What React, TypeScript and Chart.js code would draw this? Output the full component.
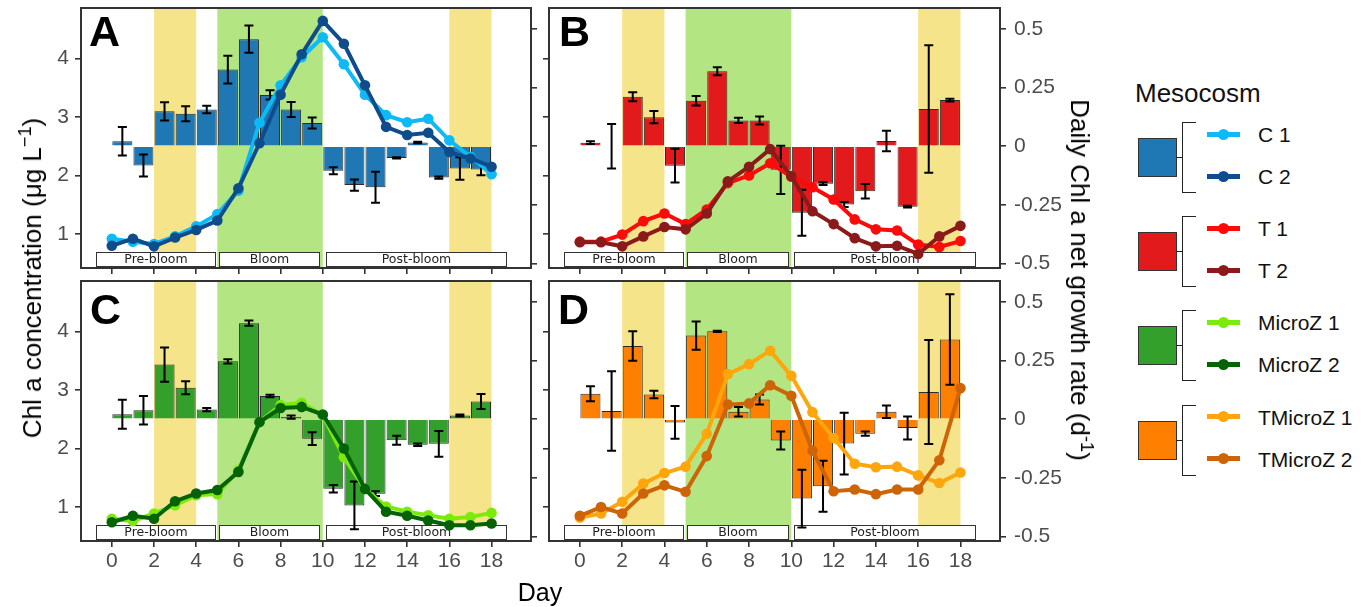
import React, { useEffect, useRef } from 'react';
import { Chart, registerables } from 'chart.js';
Chart.register(...registerables);

const FONT = '"Liberation Sans", Arial, Helvetica, sans-serif';

// ---------- axis / annotation values ----------
const days = [0, 1, 2, 3, 4, 5, 6, 7, 8, 9, 10, 11, 12, 13, 14, 15, 16, 17, 18];
const dayTicks = [0, 2, 4, 6, 8, 10, 12, 14, 16, 18];
const chlTicks = [1, 2, 3, 4];
const rateTicks = [-0.5, -0.25, 0, 0.25, 0.5];
const rateTickLabels = ['-0.5', '-0.25', '0', '0.25', '0.5'];
const xMin = -1.46;
const xMax = 19.87;
const chlMin = 0.42;
const chlMax = 4.86;
// rate axis is tied to the Chl axis: rate = (chl - 2.5) / 4
const rateMin = (chlMin - 2.5) / 4;
const rateMax = (chlMax - 2.5) / 4;

const yellowSpans = [[2, 4], [16, 18]];
const greenSpans = [[5, 10]];
const phaseLabels = ['Pre-bloom', 'Bloom', 'Post-bloom'];
const phaseStart = [-0.75, 5.08, 10.15];
const phaseEnd = [4.9, 9.84, 18.7];
const phaseBoxLow = 0.459;
const phaseBoxHigh = 0.69;

// ---------- Panel A: C ----------
const c1 = [0.92, 0.87, 0.83, 0.96, 1.13, 1.34, 1.74, 2.9, 3.54, 4.02, 4.36, 3.9, 3.38, 3.03, 2.91, 2.97, 2.6, 2.32, 2.02];
const c2 = [0.8, 0.92, 0.79, 0.94, 1.07, 1.23, 1.78, 2.55, 3.38, 4.07, 4.64, 4.25, 3.54, 2.83, 2.69, 2.73, 2.4, 2.29, 2.15];
const cRate = [0.021, -0.082, 0.149, 0.139, 0.157, 0.327, 0.457, 0.219, 0.157, 0.099, -0.105, -0.166, -0.175, -0.05, 0.016, -0.134, -0.095, -0.099];
const cErr = [0.061, 0.047, 0.039, 0.032, 0.016, 0.059, 0.058, 0.02, 0.032, 0.023, 0.015, 0.024, 0.066, 0.003, 0.003, 0.005, 0.048, 0.025];

// ---------- Panel B: T ----------
const t1 = [0.87, 0.87, 0.99, 1.22, 1.35, 1.17, 1.42, 1.87, 2.0, 2.21, 1.98, 1.8, 1.59, 1.25, 1.08, 1.06, 0.82, 0.78, 0.88];
const t2 = [0.86, 0.86, 0.79, 0.96, 1.12, 1.08, 1.35, 1.9, 2.15, 2.45, 1.99, 1.39, 1.17, 0.93, 0.79, 0.8, 0.66, 0.96, 1.14];
const tRate = [0.015, 0.0, 0.211, 0.124, -0.083, 0.194, 0.32, 0.11, 0.11, -0.101, -0.284, -0.16, -0.249, -0.192, 0.022, -0.258, 0.159, 0.197];
const tErr = [0.006, 0.095, 0.019, 0.026, 0.072, 0.02, 0.017, 0.011, 0.017, 0.103, 0.098, 0.006, 0.011, 0.031, 0.044, 0.004, 0.272, 0.006];

// ---------- Panel C: MicroZ ----------
const m1 = [0.8, 0.76, 0.89, 1.03, 1.2, 1.22, 1.63, 2.45, 2.74, 2.78, 2.57, 1.85, 1.31, 1.01, 0.92, 0.86, 0.8, 0.83, 0.9];
const m2 = [0.74, 0.85, 0.8, 1.1, 1.23, 1.29, 1.6, 2.45, 2.69, 2.71, 2.58, 2.0, 1.31, 0.92, 0.85, 0.77, 0.69, 0.69, 0.72];
const mRate = [0.021, 0.038, 0.233, 0.134, 0.041, 0.247, 0.41, 0.099, 0.009, -0.083, -0.297, -0.368, -0.318, -0.09, -0.109, -0.105, 0.016, 0.076];
const mErr = [0.062, 0.061, 0.073, 0.028, 0.007, 0.009, 0.011, 0.005, 0.007, 0.027, 0.016, 0.102, 0.01, 0.019, 0.005, 0.055, 0.004, 0.032];

// ---------- Panel D: TMicroZ ----------
const tm1 = [0.82, 0.89, 1.09, 1.4, 1.58, 1.69, 2.25, 3.27, 3.44, 3.67, 3.24, 2.62, 2.18, 1.74, 1.68, 1.69, 1.54, 1.41, 1.59];
const tm2 = [0.85, 1.0, 0.89, 1.23, 1.37, 1.26, 1.87, 2.75, 2.77, 3.08, 2.9, 1.96, 1.27, 1.3, 1.22, 1.3, 1.3, 1.8, 3.03];
const tmRate = [0.109, 0.035, 0.312, 0.105, -0.014, 0.357, 0.375, 0.032, 0.084, -0.091, -0.339, -0.286, -0.104, -0.062, 0.032, -0.038, 0.116, 0.34];
const tmErr = [0.032, 0.17, 0.063, 0.016, 0.07, 0.06, 0.003, 0.02, 0.021, 0.038, 0.123, 0.109, 0.132, 0.009, 0.027, 0.049, 0.222, 0.193];

// ---------- names / colours ----------
const groupNames = [['C 1', 'C 2'], ['T 1', 'T 2'], ['MicroZ 1', 'MicroZ 2'], ['TMicroZ 1', 'TMicroZ 2']];
const barColors = ['#1F78B4', '#E31A1C', '#33A02C', '#FF7F00'];
const lineColors = [['#0DBAF5', '#0F4C8C'], ['#FF0A0A', '#8B1A1A'], ['#7CEB0C', '#056205'], ['#FFA60D', '#CD6508']];
const panelLetters = ['A', 'B', 'C', 'D'];

const YELLOW = '#F6E48A';
const GREEN = '#B4E583';

type PanelDef = {
  letter: string;
  l1: number[];
  l2: number[];
  rate: number[];
  err: number[];
  bar: string;
  c1: string;
  c2: string;
  names: string[];
  box: { left: number; top: number; w: number; h: number };
  leftW: number;
  rightW: number;
  padTop: number;
  xH: number;
  showX: boolean;
  showL: boolean;
  showR: boolean;
};

const lineSets = [[c1, c2], [t1, t2], [m1, m2], [tm1, tm2]];
const rateSets = [cRate, tRate, mRate, tmRate];
const errSets = [cErr, tErr, mErr, tmErr];

const boxes = [
  { left: 0, top: 0, w: 545, h: 282 },
  { left: 535, top: 0, w: 540, h: 282 },
  { left: 0, top: 270, w: 545, h: 310 },
  { left: 535, top: 270, w: 540, h: 310 },
];

const panels: PanelDef[] = [0, 1, 2, 3].map((i) => {
  const isLeft = i % 2 === 0;
  const isBottom = i >= 2;
  return {
    letter: panelLetters[i],
    l1: lineSets[i][0],
    l2: lineSets[i][1],
    rate: rateSets[i],
    err: errSets[i],
    bar: barColors[i],
    c1: lineColors[i][0],
    c2: lineColors[i][1],
    names: groupNames[i],
    box: boxes[i],
    leftW: isLeft ? 81 : 14,
    rightW: isLeft ? 14 : 75,
    padTop: isBottom ? 11 : 8,
    xH: isBottom ? 39 : 14,
    showX: isBottom,
    showL: isLeft,
    showR: !isLeft,
  };
});

function buildChart(canvas: HTMLCanvasElement, p: PanelDef) {
  const mids = days.slice(0, -1).map((d) => d + 0.5);

  const deco = {
    id: 'deco',
    beforeDatasetsDraw(chart: any) {
      const { ctx, chartArea: a, scales } = chart;
      const x = scales.x;
      const yL = scales.yL;
      ctx.save();
      ctx.beginPath();
      ctx.rect(a.left, a.top, a.right - a.left, a.bottom - a.top);
      ctx.clip();
      const span = (s: number, e: number, col: string) => {
        const x0 = x.getPixelForValue(s);
        const x1 = x.getPixelForValue(e);
        ctx.fillStyle = col;
        ctx.fillRect(x0, a.top, x1 - x0, a.bottom - a.top);
      };
      yellowSpans.forEach(([s, e]) => span(s, e, YELLOW));
      greenSpans.forEach(([s, e]) => span(s, e, GREEN));
      phaseLabels.forEach((lab, k) => {
        const x0 = Math.round(x.getPixelForValue(phaseStart[k])) + 0.5;
        const x1 = Math.round(x.getPixelForValue(phaseEnd[k])) + 0.5;
        const y0 = Math.round(yL.getPixelForValue(phaseBoxHigh)) + 0.5;
        const y1 = Math.round(yL.getPixelForValue(phaseBoxLow)) + 0.5;
        ctx.fillStyle = '#ffffff';
        ctx.fillRect(x0, y0, x1 - x0, y1 - y0);
        ctx.strokeStyle = '#333333';
        ctx.lineWidth = 1;
        ctx.strokeRect(x0, y0, x1 - x0, y1 - y0);
        ctx.fillStyle = '#222222';
        ctx.font = '12.5px "DejaVu Sans", Verdana, sans-serif';
        ctx.textAlign = 'center';
        ctx.textBaseline = 'middle';
        ctx.fillText(lab, (x0 + x1) / 2, (y0 + y1) / 2 + 0.5);
      });
      ctx.restore();
    },
    afterDatasetDraw(chart: any, args: any) {
      if (args.meta.type !== 'bar') return;
      const { ctx } = chart;
      const yR = chart.scales.yR;
      ctx.save();
      ctx.strokeStyle = '#000000';
      ctx.lineWidth = 2;
      args.meta.data.forEach((bar: any, i: number) => {
        const v = p.rate[i];
        const e = p.err[i];
        const yT = yR.getPixelForValue(v + e);
        const yB = yR.getPixelForValue(v - e);
        const bx = bar.x;
        ctx.beginPath();
        ctx.moveTo(bx, yT);
        ctx.lineTo(bx, yB);
        ctx.moveTo(bx - 4.5, yT);
        ctx.lineTo(bx + 4.5, yT);
        ctx.moveTo(bx - 4.5, yB);
        ctx.lineTo(bx + 4.5, yB);
        ctx.stroke();
      });
      ctx.restore();
    },
    afterDraw(chart: any) {
      const { ctx, chartArea: a } = chart;
      ctx.save();
      ctx.strokeStyle = '#333333';
      ctx.lineWidth = 2;
      ctx.strokeRect(a.left, a.top, a.right - a.left, a.bottom - a.top);
      ctx.restore();
    },
  };

  const gridCfg = {
    display: true,
    drawOnChartArea: false,
    drawTicks: true,
    tickLength: 6,
    color: '#333333',
    lineWidth: 1.6,
  };
  const tickFont = { family: FONT, size: 21 };
  const zeroPad = (s: any) => {
    s.paddingTop = 0;
    s.paddingBottom = 0;
    s.paddingLeft = 0;
    s.paddingRight = 0;
  };

  const lineDs = (vals: number[], col: string, label: string, order: number) => ({
    type: 'line' as const,
    label,
    data: days.map((d, i) => ({ x: d, y: vals[i] })),
    xAxisID: 'x',
    yAxisID: 'yL',
    borderColor: col,
    backgroundColor: col,
    borderWidth: 4,
    pointRadius: 5.3,
    pointHoverRadius: 5.3,
    pointBorderWidth: 0,
    pointBackgroundColor: col,
    tension: 0,
    order,
  });

  return new Chart(canvas, {
    type: 'bar',
    data: {
      datasets: [
        lineDs(p.l2, p.c2, p.names[1], 1),
        lineDs(p.l1, p.c1, p.names[0], 2),
        {
          type: 'bar' as const,
          label: 'rate',
          data: mids.map((m, i) => ({ x: m, y: p.rate[i] })),
          xAxisID: 'x',
          yAxisID: 'yR',
          backgroundColor: p.bar,
          borderColor: '#2b2b2b',
          borderWidth: 1,
          barPercentage: 0.95,
          categoryPercentage: 1,
          order: 3,
        },
      ] as any,
    },
    options: {
      animation: false,
      responsive: false,
      maintainAspectRatio: false,
      events: [],
      layout: { padding: { top: p.padTop, left: 0, right: 0, bottom: 0 } },
      plugins: { legend: { display: false }, tooltip: { enabled: false }, title: { display: false } },
      scales: {
        x: {
          type: 'linear',
          position: 'bottom',
          min: xMin,
          max: xMax,
          offset: false,
          afterBuildTicks: (s: any) => {
            s.ticks = dayTicks.map((v) => ({ value: v }));
          },
          ticks: {
            display: p.showX,
            font: tickFont,
            color: '#4D4D4D',
            padding: 2,
            maxRotation: 0,
            autoSkip: false,
            callback: (v: any) => String(v),
          },
          grid: { ...gridCfg, offset: false },
          border: { display: false },
          afterFit: (s: any) => {
            s.height = p.xH;
            zeroPad(s);
          },
        },
        yL: {
          type: 'linear',
          position: 'left',
          min: chlMin,
          max: chlMax,
          afterBuildTicks: (s: any) => {
            s.ticks = chlTicks.map((v) => ({ value: v }));
          },
          ticks: {
            display: p.showL,
            font: tickFont,
            color: '#4D4D4D',
            padding: 6,
            callback: (v: any) => String(v),
          },
          grid: gridCfg,
          border: { display: false },
          afterFit: (s: any) => {
            s.width = p.leftW;
            zeroPad(s);
          },
        },
        yR: {
          type: 'linear',
          position: 'right',
          min: rateMin,
          max: rateMax,
          afterBuildTicks: (s: any) => {
            s.ticks = rateTicks.map((v) => ({ value: v }));
          },
          ticks: {
            display: p.showR,
            font: tickFont,
            color: '#4D4D4D',
            padding: 8,
            callback: (_v: any, idx: number) => rateTickLabels[idx],
          },
          grid: gridCfg,
          border: { display: false },
          afterFit: (s: any) => {
            s.width = p.rightW;
            zeroPad(s);
          },
        },
      },
    } as any,
    plugins: [deco],
  });
}

const letterPos = [
  { left: 89, top: 9.5 },
  { left: 559, top: 9.5 },
  { left: 90, top: 288 },
  { left: 558, top: 288 },
];

export default function App() {
  const r0 = useRef<HTMLCanvasElement>(null);
  const r1 = useRef<HTMLCanvasElement>(null);
  const r2 = useRef<HTMLCanvasElement>(null);
  const r3 = useRef<HTMLCanvasElement>(null);
  const refs = [r0, r1, r2, r3];

  useEffect(() => {
    const charts = panels.map((p, i) => buildChart(refs[i].current as HTMLCanvasElement, p));
    return () => charts.forEach((c) => c.destroy());
  }, []);

  const legendTop0 = 138;
  const legendStep = 94.2;

  return (
    <div
      style={{
        position: 'fixed',
        left: 0,
        top: 0,
        width: 1371,
        height: 607,
        background: '#ffffff',
        overflow: 'hidden',
        fontFamily: FONT,
      }}
    >
      {panels.map((p, i) => (
        <canvas
          key={p.letter}
          ref={refs[i]}
          width={p.box.w}
          height={p.box.h}
          style={{ position: 'absolute', left: p.box.left, top: p.box.top, width: p.box.w, height: p.box.h }}
        />
      ))}
      {panels.map((p, i) => (
        <div
          key={'L' + p.letter}
          style={{
            position: 'absolute',
            left: letterPos[i].left,
            top: letterPos[i].top,
            fontSize: 43,
            lineHeight: 1,
            fontWeight: 'bold',
            color: '#000',
          }}
        >
          {p.letter}
        </div>
      ))}

      {/* axis titles */}
      <div
        style={{
          position: 'absolute',
          left: 32,
          top: 278,
          transform: 'translate(-50%, -50%) rotate(-90deg)',
          whiteSpace: 'nowrap',
          fontSize: 26,
          lineHeight: 1,
          color: '#000',
        }}
      >
        Chl a concentration (μg L<sup style={{ fontSize: '0.7em', lineHeight: 0 }}>−1</sup>)
      </div>
      <div
        style={{
          position: 'absolute',
          left: 1080,
          top: 280,
          transform: 'translate(-50%, -50%) rotate(90deg)',
          whiteSpace: 'nowrap',
          fontSize: 26,
          lineHeight: 1,
          color: '#000',
        }}
      >
        Daily Chl a net growth rate (d<sup style={{ fontSize: '0.7em', lineHeight: 0 }}>-1</sup>)
      </div>
      <div
        style={{
          position: 'absolute',
          left: 540,
          top: 592,
          transform: 'translate(-50%, -50%)',
          whiteSpace: 'nowrap',
          fontSize: 25,
          lineHeight: 1,
          color: '#000',
        }}
      >
        Day
      </div>

      {/* legend */}
      <div style={{ position: 'absolute', left: 1135, top: 79.5, fontSize: 26, lineHeight: 1, color: '#111' }}>Mesocosm</div>
      {panels.map((p, g) => {
        const sq = legendTop0 + g * legendStep;
        const ly = [sq - 4, sq + 38];
        const cols = [p.c1, p.c2];
        return (
          <React.Fragment key={'G' + g}>
            <div
              style={{
                position: 'absolute',
                left: 1138,
                top: sq,
                width: 37,
                height: 37,
                background: p.bar,
                border: '1px solid #333',
              }}
            />
            {/* bracket */}
            <div style={{ position: 'absolute', left: 1176, top: sq + 19, width: 7, height: 0, borderTop: '1.5px solid #222' }} />
            <div style={{ position: 'absolute', left: 1182, top: sq - 16, width: 0, height: 71, borderLeft: '1.5px solid #222' }} />
            <div style={{ position: 'absolute', left: 1182, top: sq - 16, width: 14, height: 0, borderTop: '1.5px solid #222' }} />
            <div style={{ position: 'absolute', left: 1182, top: sq + 54, width: 14, height: 0, borderTop: '1.5px solid #222' }} />
            {ly.map((y, k) => (
              <React.Fragment key={'l' + k}>
                <div
                  style={{ position: 'absolute', left: 1207, top: y - 2.5, width: 33, height: 5, background: cols[k] }}
                />
                <div
                  style={{
                    position: 'absolute',
                    left: 1223.5 - 5.5,
                    top: y - 5.5,
                    width: 11,
                    height: 11,
                    borderRadius: '50%',
                    background: cols[k],
                  }}
                />
                <div
                  style={{
                    position: 'absolute',
                    left: 1258,
                    top: y,
                    transform: 'translateY(-50%)',
                    fontSize: 21,
                    lineHeight: 1,
                    whiteSpace: 'nowrap',
                    color: '#111',
                  }}
                >
                  {p.names[k]}
                </div>
              </React.Fragment>
            ))}
          </React.Fragment>
        );
      })}
    </div>
  );
}
